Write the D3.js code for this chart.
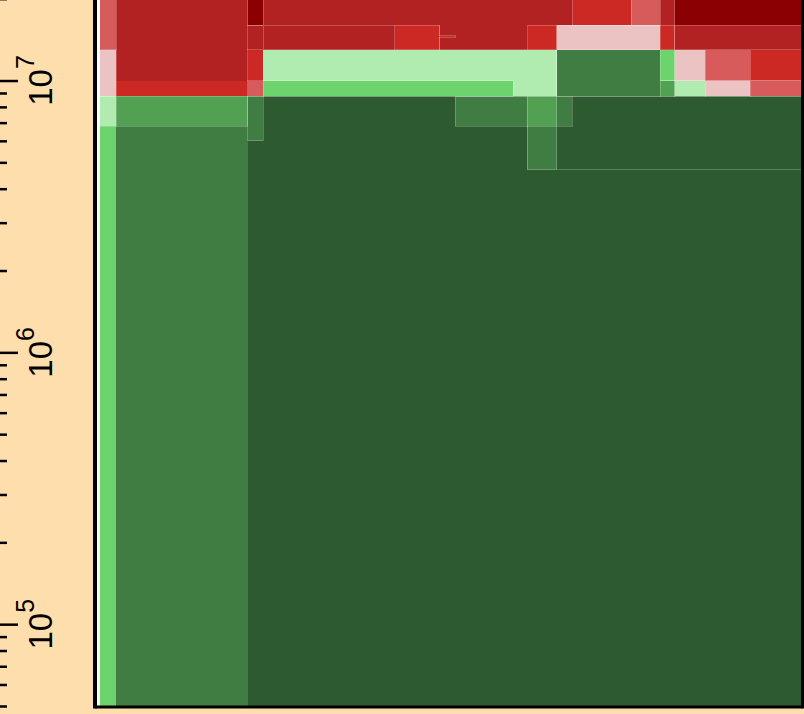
<!DOCTYPE html>
<html>
<head>
<meta charset="utf-8">
<script src="https://cdn.jsdelivr.net/npm/d3@7"></script>
<style>
  html, body { margin: 0; padding: 0; background: #ffdead; }
  svg { display: block; }
</style>
</head>
<body>
<svg></svg>
<script>
const levels = [-5, -4, -3, -2, -1, 1, 2, 3, 4, 5];
const palette = ['#8b0000', '#b22222', '#cc2924', '#d85b5b', '#ebc3c3',
  '#b0ecb0', '#6dd36d', '#52a052', '#3f7d43', '#2d5a2e'];

const majorTicks = [1e5, 1e6, 1e7];
const majorLabels = ['5', '6', '7'];

// [x0, x1, low value, high value, level]
const baseCells = [
  [21.4, 100, 5e4, 8.75e6, 5],
  [0.4, 2.7, 5e4, 6.8e6, 2],
  [2.7, 21.4, 5e4, 6.8e6, 4],
  [2.7, 21.4, 8.75e6, 1e7, -3],
  [2.7, 21.4, 1e7, 2e7, -4],
];

const leftCells = [
  [0.4, 2.7, 6.8e6, 8.75e6, 1],
  [0.4, 2.7, 8.75e6, 1.3e7, -1],
  [0.4, 2.7, 1.3e7, 2e7, -2],
  [2.7, 21.4, 6.8e6, 8.75e6, 3],
  [21.4, 23.6, 6e6, 8.75e6, 4],
  [21.4, 23.6, 8.75e6, 1e7, -2],
  [21.4, 23.6, 1e7, 1.3e7, -3],
  [21.4, 23.6, 1.3e7, 1.6e7, -4],
  [21.4, 23.6, 1.6e7, 2e7, -5],
];

const lowCells = [
  [61.2, 100, 4.7e6, 8.75e6, 5],
  [50.9, 67.5, 6.8e6, 8.75e6, 4],
  [61.2, 65.3, 4.7e6, 8.75e6, 4],
  [61.2, 65.3, 6.8e6, 8.75e6, 3],
];

const midCells = [
  [23.6, 65.3, 8.75e6, 1.3e7, 1],
  [23.6, 59.1, 8.75e6, 1e7, 2],
  [65.3, 80.0, 8.75e6, 1.3e7, 4],
  [80.0, 82.1, 1e7, 1.3e7, 2],
  [80.0, 82.1, 8.75e6, 1e7, 3],
  [82.1, 86.4, 1e7, 1.3e7, -1],
  [82.1, 86.4, 8.75e6, 1e7, 1],
  [86.4, 92.8, 1e7, 1.3e7, -2],
  [86.4, 92.8, 8.75e6, 1e7, -1],
  [92.8, 100, 1e7, 1.3e7, -3],
  [92.8, 100, 8.75e6, 1e7, -2],
];

const topCells = [
  [23.6, 100, 1.3e7, 2e7, -4],
  [23.6, 48.6, 1.3e7, 1.6e7, -4],
  [42.3, 48.6, 1.3e7, 1.6e7, -3],
  [48.6, 50.9, 1.44e7, 1.46e7, -3],
  [61.2, 65.3, 1.3e7, 1.6e7, -3],
  [65.3, 80.0, 1.3e7, 1.6e7, -1],
  [80.0, 82.1, 1.3e7, 1.6e7, -3],
  [67.5, 75.9, 1.6e7, 2e7, -3],
  [75.9, 80.0, 1.6e7, 2e7, -2],
  [82.1, 100, 1.6e7, 2e7, -5],
  [82.1, 100, 1.3e7, 1.6e7, -4],
];

const width = 804;
const height = 714;

const svg = d3.select('svg')
  .attr('width', width)
  .attr('height', height);

const x = d3.scaleLinear().domain([0, 100]).range([97, 801]);
const y = d3.scaleLog().domain([5e4, 2e7]).range([706, -1.3]);
const color = d3.scaleOrdinal().domain(levels).range(palette);

svg.append('rect')
  .attr('x', x(0))
  .attr('y', 0)
  .attr('width', x(100) - x(0))
  .attr('height', y(5e4))
  .attr('fill', '#fff');

function drawCells(data, stroke) {
  svg.append('g')
    .attr('shape-rendering', 'crispEdges')
    .selectAll('rect')
    .data(data)
    .enter()
    .append('rect')
    .attr('x', d => x(d[0]))
    .attr('width', d => x(d[1]) - x(d[0]))
    .attr('y', d => y(d[3]))
    .attr('height', d => Math.max(1, y(d[2]) - y(d[3])))
    .attr('fill', d => color(d[4]))
    .attr('stroke', stroke)
    .attr('stroke-width', 1);
}

drawCells(baseCells, 'none');
drawCells([...leftCells, ...lowCells, ...midCells, ...topCells], 'rgba(255,255,255,0.22)');

// frame
const frame = svg.append('g').attr('stroke', '#000');
frame.append('line')
  .attr('x1', x(0) - 2).attr('x2', x(0) - 2)
  .attr('y1', -5).attr('y2', y(5e4) + 2.5)
  .attr('stroke-width', 4);
frame.append('line')
  .attr('x1', x(0) - 2).attr('x2', x(100) + 1.5)
  .attr('y1', y(5e4) + 1).attr('y2', y(5e4) + 1)
  .attr('stroke-width', 3);
frame.append('line')
  .attr('x1', x(100) + 1.5).attr('x2', x(100) + 1.5)
  .attr('y1', -5).attr('y2', y(5e4) + 2.5)
  .attr('stroke-width', 3);

// y axis ticks on the left margin
const minorTicks = y.ticks().filter(t => !majorTicks.includes(t));

const minorAxis = svg.append('g')
  .call(d3.axisRight(y).tickValues(minorTicks).tickSize(7).tickFormat(''));
const majorAxis = svg.append('g')
  .call(d3.axisRight(y).tickValues(majorTicks).tickSize(18).tickFormat(''));

[minorAxis, majorAxis].forEach((g) => {
  g.select('.domain').remove();
  g.selectAll('.tick line').attr('stroke', '#000').attr('stroke-width', 2.5);
});

const label = svg.append('g')
  .selectAll('text')
  .data(majorTicks)
  .enter()
  .append('text')
  .attr('transform', d => `translate(52,${y(d)}) rotate(-90)`)
  .attr('text-anchor', 'middle')
  .attr('font-family', '"Liberation Sans", Arial, sans-serif')
  .attr('fill', '#000');

label.append('tspan')
  .attr('font-size', 33)
  .text('10');
label.append('tspan')
  .attr('font-size', 25)
  .attr('dy', -18)
  .text((d, i) => majorLabels[i]);
</script>
</body>
</html>
